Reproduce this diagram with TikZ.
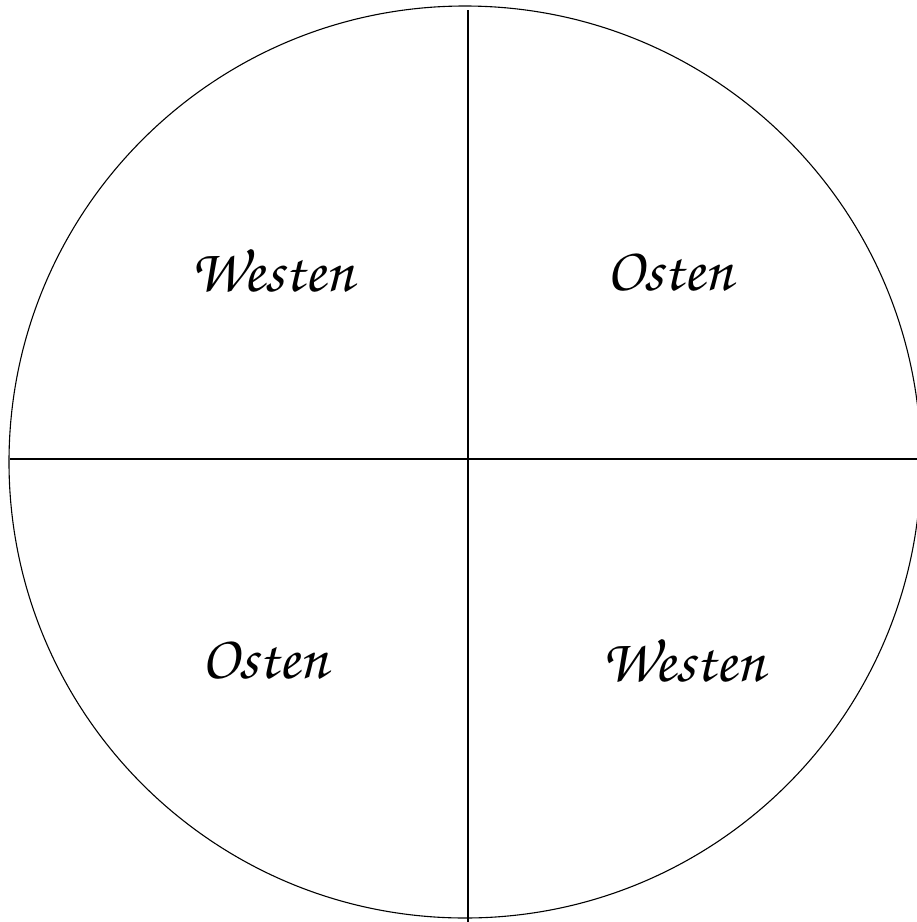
\documentclass[tikz,border=0pt]{standalone}
\usepackage[T1,TU]{fontenc}
\begin{document}
\begin{tikzpicture}[x=1pt,y=-1pt,
  lbl/.style={font=\fontencoding{T1}\fontfamily{pzc}\fontsize{62}{66}\selectfont, inner sep=0pt},
  ln/.style={draw=black, line width=1.1pt}]
\useasboundingbox (0,0) rectangle (917,922);
\clip (0,0) rectangle (917,922);
\coordinate (c) at (465,462);
\draw[ln] (c) circle (456);
\coordinate (t) at (468,10);
\coordinate (b) at (468,922);
\coordinate (l) at (10,459);
\coordinate (r) at (917,459);
\draw[ln] (t) -- (b);
\draw[ln] (l) -- (r);
\node[lbl] (w1) at (272,270) {Westen};
\node[lbl] (o1) at (670,272) {Osten};
\node[lbl] (o2) at (265,660) {Osten};
\node[lbl] (w2) at (683,660) {Westen};
\end{tikzpicture}
\end{document}
